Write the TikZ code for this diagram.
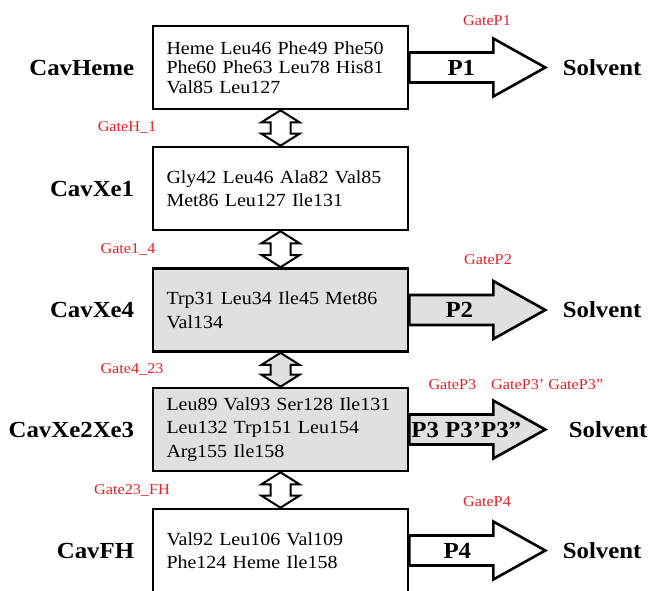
\documentclass[tikz,border=0pt]{standalone}
\usepackage{fontspec}
\setmainfont{Liberation Serif}[FakeStretch=1.08]
\usetikzlibrary{positioning, calc}

\definecolor{gatered}{RGB}{228,32,40}
\definecolor{cavgray}{RGB}{224,224,224}

% fat exit arrow from a cavity box, #1 = box, #2 = fill
\newcommand{\exitarrow}[2]{%
  \draw[fatline, fill=#2] ($(#1.east)+(0,-15)$) -- ++(84,0) -- ++(0,-14)
    -- ++(52,29) coordinate (#1tip) -- ++(-52,29) -- ++(0,-14) -- ++(-84,0) -- cycle;}
% double arrow between two cavity boxes, #3 = fill
\newcommand{\gatearrow}[3]{%
  \draw[gateline, fill=#3] (#1.south) -- ($(#1.south)+(19,12)$) -- ($(#1.south)+(10,12)$)
    -- ($(#2.north)+(10,-12)$) -- ($(#2.north)+(19,-12)$) -- (#2.north)
    -- ($(#2.north)+(-19,-12)$) -- ($(#2.north)+(-10,-12)$)
    -- ($(#1.south)+(-10,12)$) -- ($(#1.south)+(-19,12)$) -- cycle;}

\begin{document}
\begin{tikzpicture}[x=1pt, y=-1pt,
  cav/.style={rectangle, draw, line width=2.6pt, minimum width=255pt, minimum height=83pt,
    text width=228pt, inner xsep=13.5pt, align=left, font=\fontsize{18.5}{23.5}\selectfont},
  cavname/.style={font=\fontsize{23}{26}\selectfont\bfseries},
  exit/.style={font=\fontsize{23}{26}\selectfont\bfseries},
  gate/.style={text=gatered, font=\fontsize{15}{17}\selectfont},
  fatline/.style={line width=2.6pt, line join=miter},
  gateline/.style={line width=2pt, line join=miter},
]
  \useasboundingbox (0,0) rectangle (650,590);
  \clip (0,0) rectangle (650,590);

  % cavities
  \node[cav, font=\fontsize{18.5}{19.5}\selectfont] (heme) at (280.5, 67.5)
    {Heme Leu46 Phe49 Phe50\\Phe60 Phe63 Leu78 His81\\Val85 Leu127};
  \node[cav] (xeone) at (280.5, 188.5) {Gly42 Leu46 Ala82 Val85\\Met86 Leu127 Ile131};
  \node[cav, fill=cavgray] (xefour) at (280.5, 310) {Trp31 Leu34 Ile45 Met86\\Val134};
  \node[cav, fill=cavgray] (xetwothree) at (280.5, 429.5)
    {Leu89 Val93 Ser128 Ile131\\Leu132 Trp151 Leu154\\Arg155 Ile158};
  \node[cav] (fh) at (280.5, 550.5) {Val92 Leu106 Val109\\Phe124 Heme Ile158};

  \node[cavname, left=14pt of heme] (hemename) {CavHeme};
  \node[cavname, left=14pt of xeone] (xeonename) {CavXe1};
  \node[cavname, left=14pt of xefour] (xefourname) {CavXe4};
  \node[cavname, left=14pt of xetwothree] (xetwothreename) {CavXe2Xe3};
  \node[cavname, left=14pt of fh] (fhname) {CavFH};

  % gates between cavities
  \gatearrow{heme}{xeone}{white}
  \gatearrow{xeone}{xefour}{white}
  \gatearrow{xefour}{xetwothree}{cavgray}
  \gatearrow{xetwothree}{fh}{white}

  \node[gate] (gatehone) at (127, 127.5) {GateH\_1};
  \node[gate] (gateonefour) at (128, 249) {Gate1\_4};
  \node[gate] (gatefourtt) at (132, 369.5) {Gate4\_23};
  \node[gate] (gatettfh) at (132, 490) {Gate23\_FH};

  % exits to solvent
  \exitarrow{heme}{white}
  \exitarrow{xefour}{cavgray}
  \exitarrow{xetwothree}{cavgray}
  \exitarrow{fh}{white}

  \node[exit] (pone) at ($(heme.east)+(52,0)$) {P1};
  \node[exit] (ptwo) at ($(xefour.east)+(50,0)$) {P2};
  \node[exit] (pthree) at ($(xetwothree.east)+(57,0)$) {P3 P3'P3''};
  \node[exit] (pfour) at ($(fh.east)+(48,0)$) {P4};

  \node[exit, right=14pt of hemetip] (hemesolvent) {Solvent};
  \node[exit, right=14pt of xefourtip] (xefoursolvent) {Solvent};
  \node[exit, right=20pt of xetwothreetip] (xetwothreesolvent) {Solvent};
  \node[exit, right=14pt of fhtip] (fhsolvent) {Solvent};

  \node[gate] (gatepone) at (487, 21) {GateP1};
  \node[gate] (gateptwo) at (488, 260) {GateP2};
  \node[gate, anchor=west] (gatepthree) at (425, 385) {GateP3\quad GateP3' GateP3''};
  \node[gate] (gatepfour) at (487, 502) {GateP4};
\end{tikzpicture}
\end{document}
